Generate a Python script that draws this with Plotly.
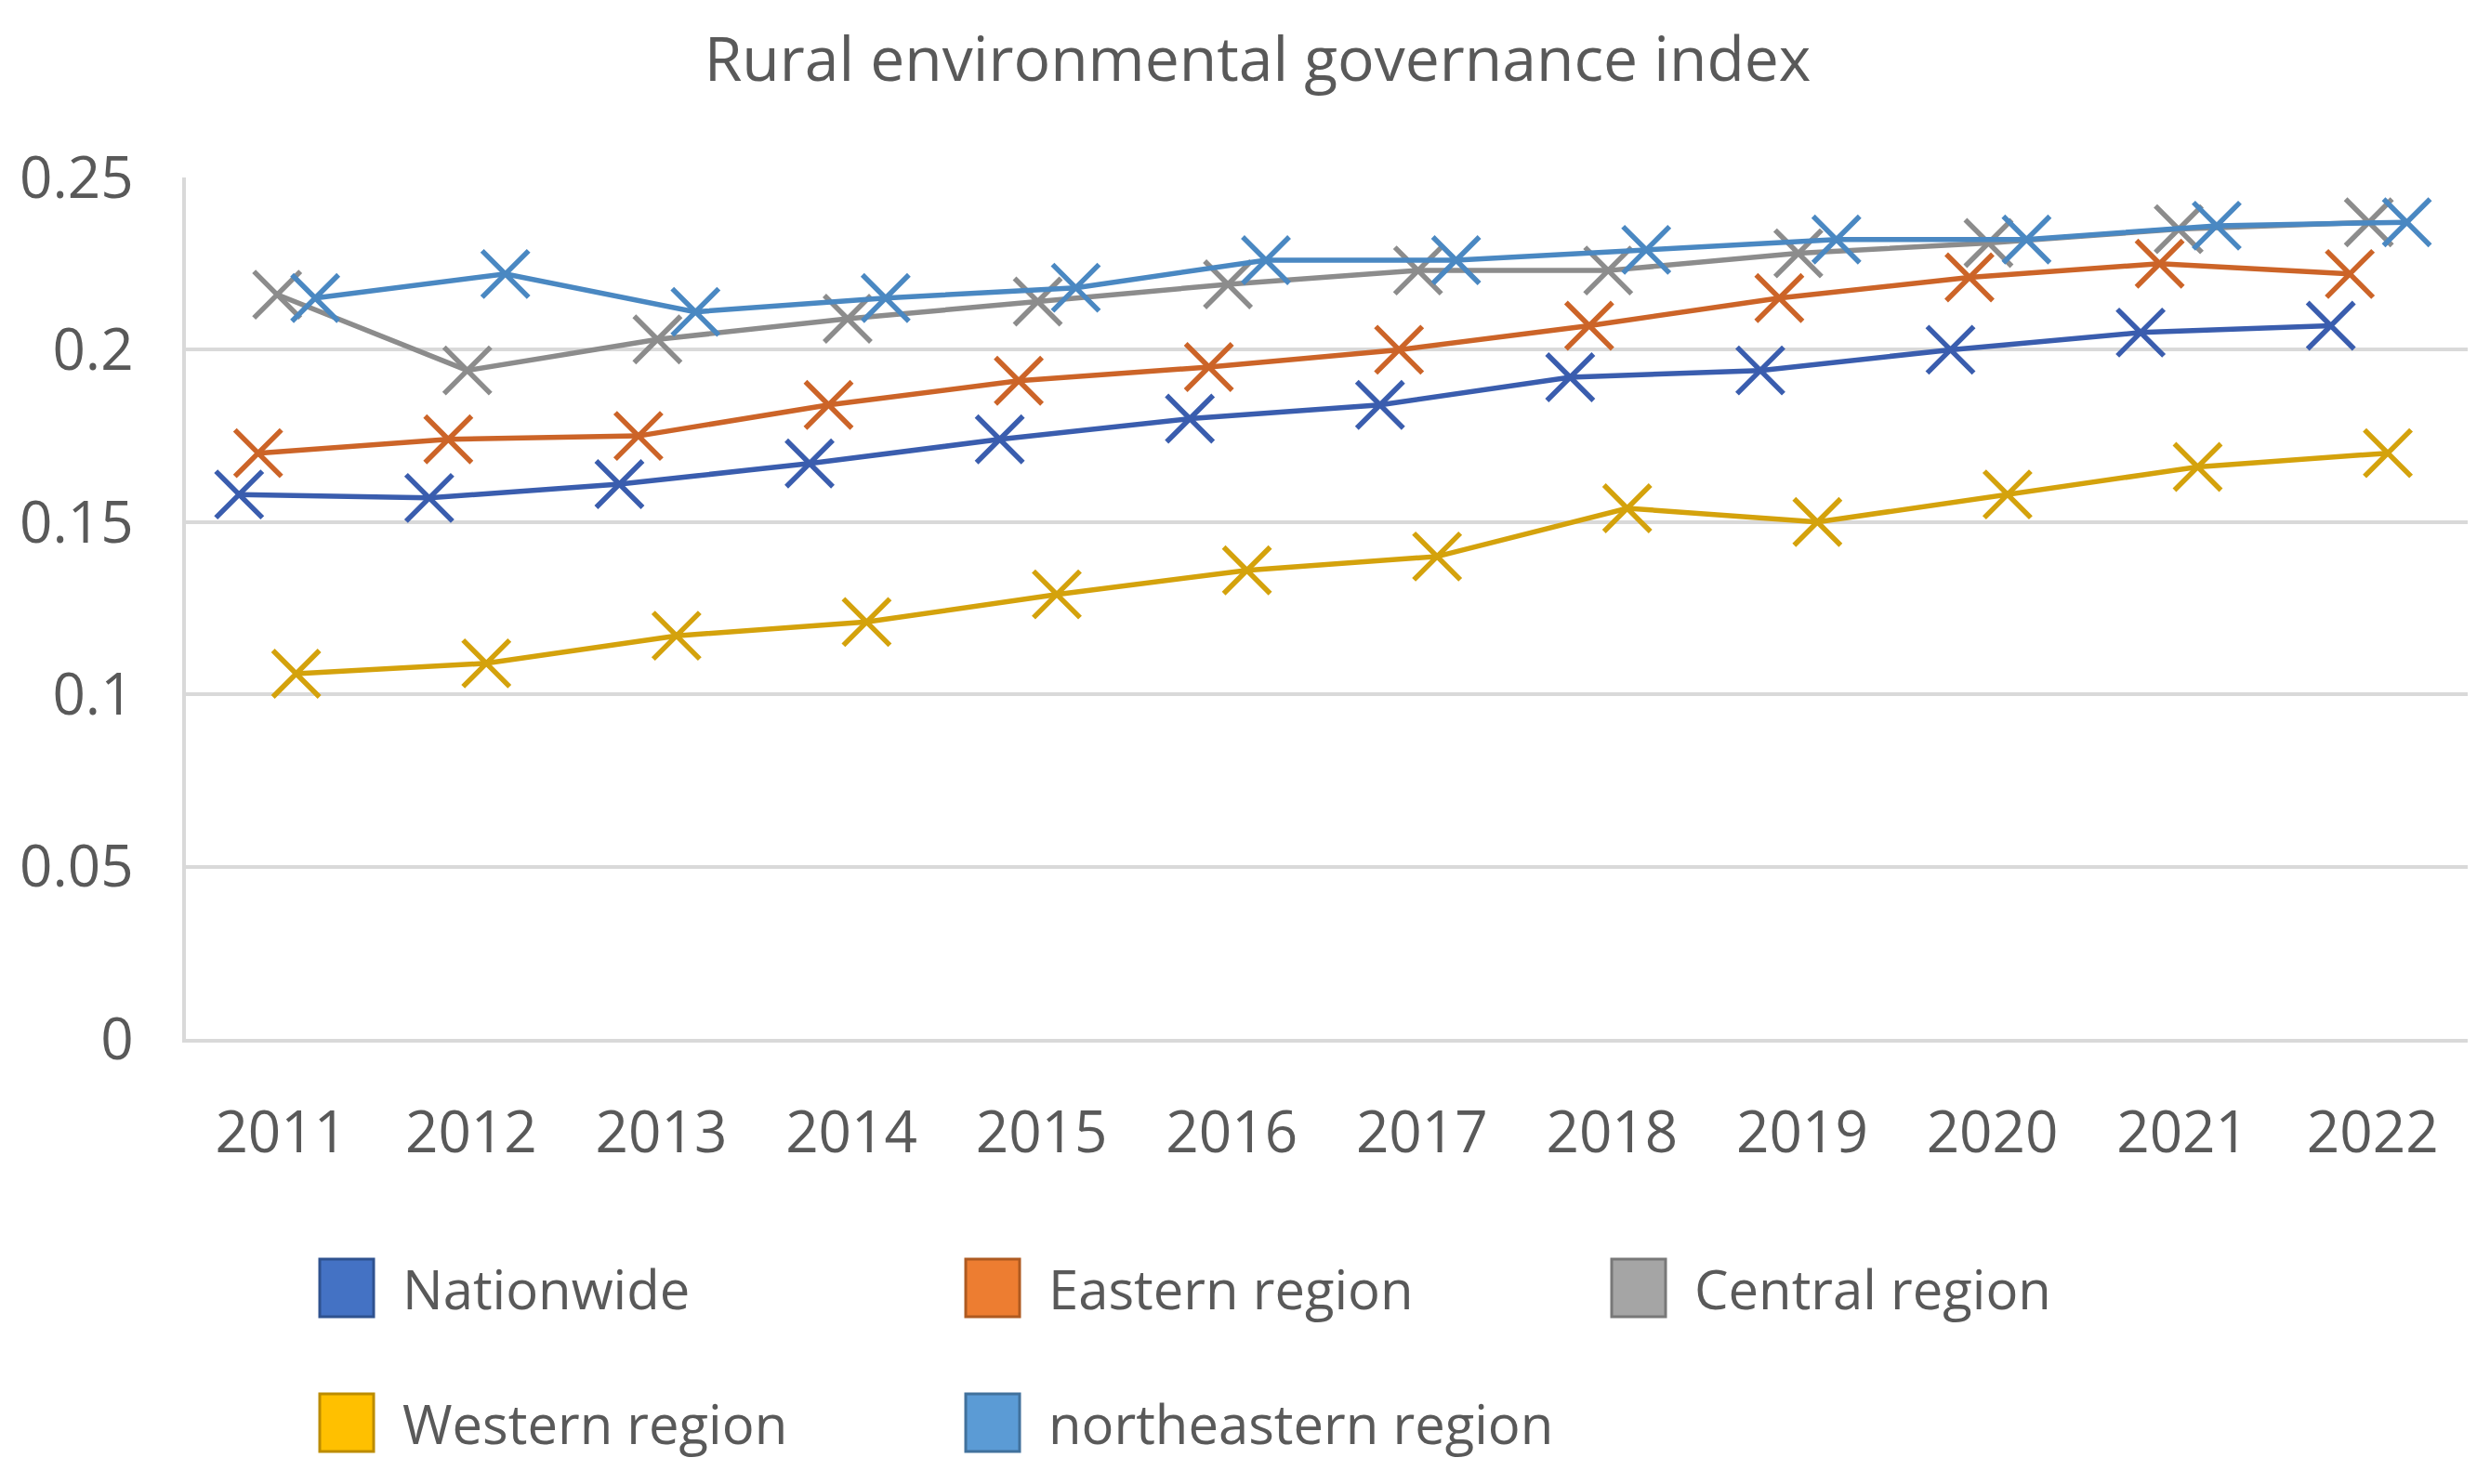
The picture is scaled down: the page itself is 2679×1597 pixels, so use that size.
"""Rural environmental governance index by region, 2011-2022."""

import plotly.graph_objects as go

years = ["2011", "2012", "2013", "2014", "2015", "2016",
         "2017", "2018", "2019", "2020", "2021", "2022"]

nationwide = [0.158, 0.157, 0.161, 0.167, 0.174, 0.180,
              0.184, 0.192, 0.194, 0.200, 0.205, 0.207]
eastern = [0.170, 0.174, 0.175, 0.184, 0.191, 0.195,
           0.200, 0.207, 0.215, 0.221, 0.225, 0.222]
central = [0.216, 0.194, 0.203, 0.209, 0.214, 0.219,
           0.223, 0.223, 0.228, 0.231, 0.235, 0.237]
western = [0.106, 0.109, 0.117, 0.121, 0.129, 0.136,
           0.140, 0.154, 0.150, 0.158, 0.166, 0.170]
northeastern = [0.215, 0.222, 0.211, 0.215, 0.218, 0.226,
                0.226, 0.229, 0.232, 0.232, 0.236, 0.237]

series_names = ["Nationwide", "Eastern region", "Central region",
                "Western region", "northeastern region"]
series_values = [nationwide, eastern, central, western, northeastern]

# style
line_colors = ["#3A5DAE", "#CC6428", "#8C8C8C", "#D4A20C", "#4A88C2"]
swatch_colors = ["#4472C4", "#ED7D31", "#A5A5A5", "#FFC000", "#5B9BD5"]
swatch_borders = ["#2F528F", "#AE5A21", "#787878", "#BC8C00", "#41719C"]
x_shift = [-0.22, -0.12, -0.02, 0.08, 0.18]  # series sit side by side in each year slot

W, H = 2679, 1597
L, R, T, B = 192, 32, 183, 487
TEXT = "#595959"
FONT = "Open Sans"

fig = go.Figure()

for name, vals, color, dx in zip(series_names, series_values, line_colors, x_shift):
    fig.add_trace(
        go.Scatter(
            x=[i + dx for i in range(len(years))],
            y=vals,
            mode="lines+markers",
            name=name,
            showlegend=False,
            line=dict(color=color, width=5.5),
            marker=dict(symbol="x-thin", size=50, line=dict(color=color, width=5.5)),
        )
    )

# legend drawn by hand: Excel-style square swatches, 3 per row
plot_w = W - L - R
plot_h = H - T - B
col_px = [365, 1060, 1755]
row_px = [1378, 1523]
for k, name in enumerate(series_names):
    cx = (col_px[k % 3] - L) / plot_w
    cy = (H - B - row_px[k // 3]) / plot_h
    fig.add_shape(
        type="rect",
        xref="paper", yref="paper",
        xsizemode="pixel", ysizemode="pixel",
        xanchor=cx, yanchor=cy,
        x0=-29, x1=29, y0=-31, y1=31,
        fillcolor=swatch_colors[k],
        line=dict(color=swatch_borders[k], width=3),
    )
    fig.add_annotation(
        x=cx, y=cy, xref="paper", yref="paper",
        xshift=58, xanchor="left", yanchor="middle",
        text=name, showarrow=False,
        font=dict(family=FONT, size=58, color=TEXT),
    )

fig.update_layout(
    width=W,
    height=H,
    margin=dict(l=L, r=R, t=T, b=B),
    paper_bgcolor="white",
    plot_bgcolor="white",
    title=dict(
        text="Rural environmental governance index",
        x=1345 / W, xref="container", xanchor="center",
        y=1 - 56 / H, yref="container", yanchor="middle",
        font=dict(family=FONT, size=66, color=TEXT),
    ),
    font=dict(family=FONT, size=60, color=TEXT),
)

fig.update_xaxes(
    range=[-0.5, len(years) - 0.5],
    tickmode="array",
    tickvals=list(range(len(years))),
    ticktext=years,
    showgrid=False,
    zeroline=False,
    showline=True,
    linecolor="#D9D9D9",
    linewidth=4,
    ticks="",
    ticklabelstandoff=44,
    tickfont=dict(family=FONT, size=62, color=TEXT),
)
fig.update_yaxes(
    range=[0, 0.25],
    tickmode="array",
    tickvals=[0, 0.05, 0.1, 0.15, 0.2, 0.25],
    ticktext=["0", "0.05", "0.1", "0.15", "0.2", "0.25"],
    showgrid=True,
    gridcolor="#D9D9D9",
    gridwidth=4,
    zeroline=False,
    showline=True,
    linecolor="#D9D9D9",
    linewidth=4,
    ticks="",
    ticklabelstandoff=40,
    tickfont=dict(family=FONT, size=62, color=TEXT),
)

fig.write_html("out.html")
